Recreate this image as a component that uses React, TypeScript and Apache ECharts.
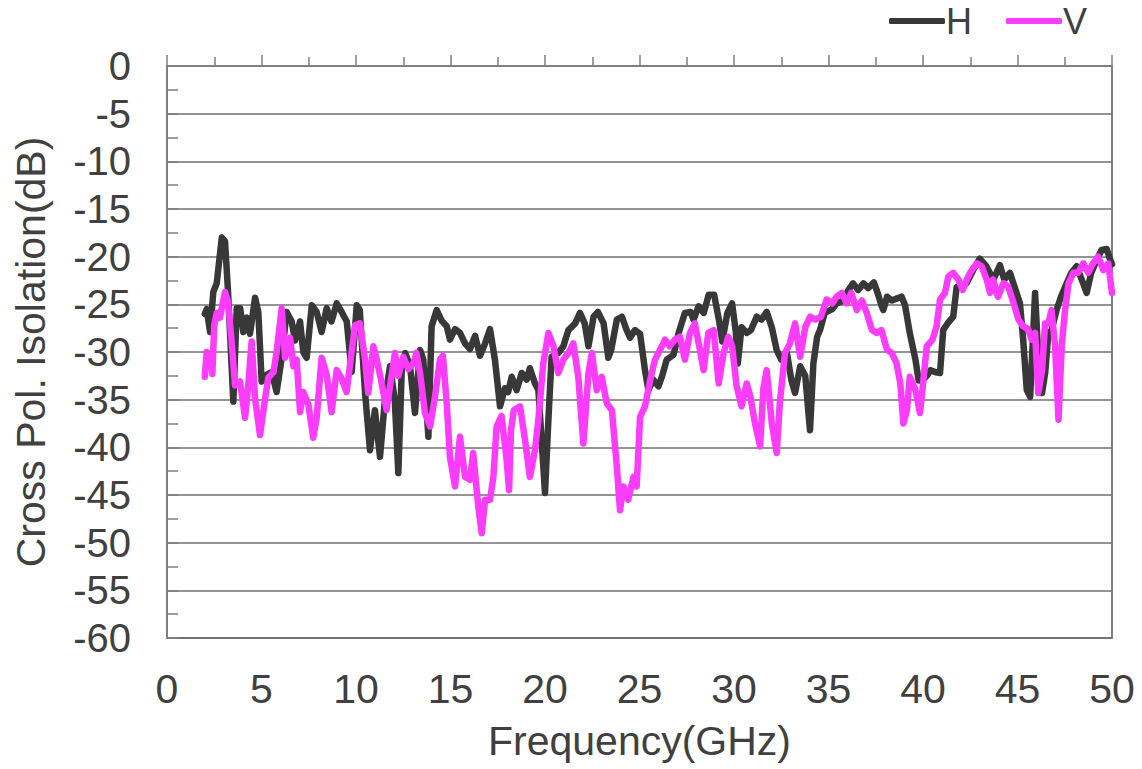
import React, { useEffect, useRef } from "react";
import * as echarts from "echarts";

// Frequency (GHz) and cross-pol isolation (dB) for H polarisation
const freqH = [
  2.0, 2.1, 2.28, 2.45, 2.63, 2.9, 3.07, 3.23, 3.51, 3.69, 3.87, 4.04, 4.22, 4.39, 4.66, 4.83,
  5.01, 5.27, 5.54, 5.8, 6.07, 6.33, 6.6, 6.77, 7.04, 7.21, 7.39, 7.66, 7.92, 8.18, 8.45, 8.7,
  8.98, 9.24, 9.51, 9.77, 10.04, 10.2, 10.48, 10.74, 11.0, 11.27, 11.53, 11.8, 12.05, 12.24,
  12.42, 12.6, 12.86, 13.12, 13.39, 13.56, 13.83, 14.0, 14.27, 14.53, 14.8, 14.97, 15.24, 15.5,
  15.77, 16.03, 16.3, 16.56, 16.83, 17.09, 17.35, 17.62, 17.88, 18.05, 18.24, 18.5, 18.77, 19.03,
  19.2, 19.47, 19.65, 19.82, 20.0, 20.18, 20.35, 20.7, 20.97, 21.24, 21.6, 21.85, 22.1, 22.3,
  22.57, 22.8, 23.1, 23.35, 23.5, 23.8, 24.07, 24.32, 24.5, 24.76, 25.03, 25.29, 25.47, 25.73,
  26.0, 26.2, 26.44, 26.8, 27.07, 27.4, 27.7, 27.86, 28.13, 28.4, 28.66, 28.95, 29.2, 29.38,
  29.65, 29.9, 30.1, 30.2, 30.4, 30.67, 30.9, 31.2, 31.45, 31.73, 32.0, 32.26, 32.5, 32.8,
  33.04, 33.23, 33.5, 33.77, 34.02, 34.2, 34.4, 34.55, 34.8, 35.2, 35.43, 35.8, 36.05, 36.3,
  36.57, 36.85, 37.1, 37.4, 37.55, 37.8, 37.9, 38.1, 38.35, 38.6, 38.87, 39.05, 39.3, 39.6,
  39.77, 39.95, 40.2, 40.4, 40.63, 40.9, 41.07, 41.3, 41.6, 41.78, 42.0, 42.3, 42.66, 43.0,
  43.35, 43.72, 44.07, 44.3, 44.6, 44.9, 45.13, 45.3, 45.49, 45.67, 45.93, 46.1, 46.3, 46.47,
  46.63, 46.8, 47.07, 47.3, 47.6, 47.85, 48.13, 48.4, 48.66, 48.9, 49.2, 49.45, 49.72, 49.9, 50.0,
];
const valH = [
  -26.0, -25.5, -27.9, -23.7, -22.8, -18.0, -18.4, -23.7, -35.2, -25.4, -25.4, -27.9, -26.4, -28.1, -24.3, -25.8,
  -33.1, -32.4, -32.1, -34.2, -30.6, -25.8, -26.8, -28.8, -26.8, -30.0, -30.6, -25.1, -25.8, -27.9, -25.4, -26.8,
  -24.9, -25.8, -26.8, -32.1, -25.1, -25.6, -34.3, -40.3, -36.1, -41.0, -35.0, -31.5, -35.0, -42.7,
  -31.9, -30.1, -31.5, -36.4, -29.8, -30.8, -38.9, -27.3, -25.6, -26.7, -27.3, -28.7, -27.6, -28.0,
  -29.1, -29.7, -28.3, -30.4, -29.1, -27.6, -30.8, -35.7, -33.8, -34.2, -32.6, -34.0, -32.2, -32.9,
  -31.7, -33.3, -34.0, -39.2, -44.8, -37.1, -30.5, -30.1, -29.4, -27.7, -27.0, -25.9, -27.0, -29.4,
  -26.3, -25.8, -27.0, -30.6, -29.8, -26.6, -26.3, -27.7, -28.5, -27.7, -28.1, -31.9, -34.0, -32.9,
  -33.6, -32.5, -30.8, -30.3, -28.0, -25.9, -25.8, -26.6, -25.2, -25.9, -24.0, -24.0, -26.6, -28.9,
  -25.9, -24.9, -28.0, -31.2, -27.4, -28.0, -27.7, -26.3, -26.6, -25.8, -27.4, -29.8, -30.8, -30.1,
  -33.0, -34.3, -31.5, -32.5, -38.2, -31.2, -28.4, -27.7, -25.9, -25.5, -24.9, -24.6, -23.5, -22.8,
  -23.5, -22.8, -23.3, -22.7, -23.5, -25.1, -25.6, -24.2, -24.6, -24.4, -24.2, -25.1, -28.0, -30.8,
  -33.0, -33.0, -32.5, -31.9, -32.1, -32.2, -27.7, -27.0, -26.3, -23.2, -23.0, -22.8, -21.4, -20.2,
  -21.0, -22.4, -20.9, -22.4, -21.7, -23.5, -24.9, -28.7, -34.0, -34.7, -23.8, -30.5, -34.3, -32.1,
  -28.0, -27.7, -25.6, -24.2, -22.8, -21.7, -21.0, -22.4, -23.8, -21.7, -20.3, -19.3, -19.2, -20.3, -20.8,
];

// Frequency (GHz) and cross-pol isolation (dB) for V polarisation
const freqV = [
  2.0, 2.1, 2.3, 2.4, 2.5, 2.63, 2.8, 3.07, 3.23, 3.42, 3.6, 3.86, 4.13, 4.3, 4.48, 4.66, 4.92,
  5.19, 5.36, 5.63, 5.8, 6.07, 6.25, 6.51, 6.69, 6.86, 7.04, 7.21, 7.48, 7.74, 7.92, 8.18, 8.45,
  8.71, 8.98, 9.24, 9.5, 9.77, 9.95, 10.21, 10.48, 10.65, 10.92, 11.1, 11.36, 11.62, 11.8, 12.06,
  12.24, 12.5, 12.77, 13.03, 13.2, 13.39, 13.65, 13.92, 14.18, 14.44, 14.6, 14.8, 14.97, 15.24,
  15.5, 15.77, 16.03, 16.2, 16.47, 16.65, 16.83, 17.09, 17.27, 17.44, 17.7, 17.97, 18.1, 18.2,
  18.35, 18.68, 18.94, 19.2, 19.47, 19.65, 19.91, 20.18, 20.45, 20.7, 20.97, 21.24, 21.5, 21.76,
  22.03, 22.3, 22.48, 22.74, 23.0, 23.27, 23.54, 23.8, 23.97, 24.15, 24.4, 24.68, 24.85, 25.03,
  25.29, 25.56, 25.82, 26.08, 26.35, 26.6, 26.87, 27.14, 27.4, 27.67, 27.93, 28.2, 28.39, 28.64,
  28.92, 29.19, 29.45, 29.7, 29.9, 30.14, 30.4, 30.67, 30.86, 31.11, 31.38, 31.55, 31.73, 32.0,
  32.26, 32.43, 32.7, 32.96, 33.23, 33.5, 33.77, 34.03, 34.3, 34.6, 34.9, 35.2, 35.43, 35.7,
  35.96, 36.2, 36.5, 36.77, 37.02, 37.3, 37.55, 37.8, 38.1, 38.35, 38.6, 38.8, 38.96, 39.15,
  39.3, 39.6, 39.84, 40.02, 40.2, 40.5, 40.72, 40.9, 41.16, 41.34, 41.6, 41.87, 42.1, 42.3,
  42.49, 42.84, 43.1, 43.37, 43.55, 43.7, 43.97, 44.25, 44.5, 44.8, 45.05, 45.3, 45.56, 45.75,
  45.93, 46.1, 46.3, 46.46, 46.63, 46.8, 46.99, 47.17, 47.34, 47.5, 47.7, 47.95, 48.2, 48.48,
  48.74, 49.0, 49.27, 49.54, 49.8, 50.0,
];
const valV = [
  -32.6, -30.0, -30.3, -32.3, -27.2, -25.9, -26.4, -23.7, -24.8, -28.9, -33.5, -33.1, -36.9, -33.5, -28.9, -34.9, -38.7,
  -34.9, -32.7, -32.1, -30.0, -25.4, -30.6, -28.5, -31.5, -30.8, -36.3, -34.2, -35.5, -39.0, -36.9, -30.6, -32.4,
  -36.3, -31.9, -32.8, -34.2, -30.0, -27.2, -27.0, -30.8, -34.3, -29.4, -30.8, -33.3, -36.1, -33.6, -30.1,
  -32.5, -30.5, -31.8, -31.2, -30.1, -32.2, -36.4, -37.8, -34.7, -30.8, -30.4, -35.4, -41.0, -44.1,
  -38.9, -43.1, -43.4, -40.6, -46.2, -49.0, -45.5, -45.5, -43.1, -37.8, -36.7, -41.3, -44.5, -38.2,
  -36.1, -35.7, -39.2, -43.1, -40.3, -37.1, -31.2, -28.0, -29.4, -32.2, -30.8, -30.1, -29.1, -32.6,
  -39.6, -32.2, -30.1, -34.0, -32.6, -35.4, -36.1, -42.0, -46.6, -44.1, -45.5, -43.1, -44.1, -36.8,
  -35.7, -33.0, -30.8, -29.8, -28.7, -29.4, -28.7, -28.4, -30.8, -28.0, -27.0, -29.8, -31.9, -28.0,
  -27.7, -33.3, -30.1, -28.4, -29.4, -33.6, -35.7, -33.3, -34.6, -37.5, -39.9, -33.9, -31.9, -37.5,
  -40.6, -35.2, -30.1, -29.1, -27.0, -30.5, -27.4, -26.3, -26.6, -26.3, -24.5, -24.9, -24.2, -23.8,
  -24.9, -23.8, -25.6, -24.6, -25.9, -27.7, -28.0, -27.7, -29.8, -30.1, -31.2, -33.3, -37.5, -36.1,
  -32.6, -34.0, -36.4, -33.0, -29.4, -28.7, -27.3, -24.5, -23.8, -22.1, -21.7, -22.4, -23.5, -22.5,
  -21.7, -20.7, -21.0, -22.4, -23.8, -22.4, -24.2, -22.8, -23.1, -24.9, -26.6, -27.3, -27.6, -28.7,
  -28.0, -34.3, -31.9, -27.0, -27.0, -25.6, -29.4, -37.1, -29.4, -25.9, -22.8, -21.7, -21.7, -20.7,
  -21.7, -20.7, -20.0, -21.4, -20.7, -23.8,
];

const seriesNames = ["H", "V"];
const xTitle = "Frequency(GHz)";
const yTitle = "Cross Pol. Isolation(dB)";

export default function App() {
  const ref = useRef<HTMLDivElement>(null);
  useEffect(() => {
    if (!ref.current) return;
    const chart = echarts.init(ref.current, undefined, { renderer: "svg" });
    const font = "'Liberation Sans', Arial, sans-serif";
    const textColor = "#404040";
    const axisColor = "#7f7f7f";
    const colH = "#383838";
    const colV = "#fb3cfb";
    chart.setOption({
      animation: false,
      backgroundColor: "#ffffff",
      textStyle: { fontFamily: font },
      grid: {
        left: 167,
        right: 30,
        top: 66,
        bottom: 131,
        show: true,
        borderColor: axisColor,
        borderWidth: 2,
        backgroundColor: "transparent",
      },
      legend: {
        right: 55,
        top: 3,
        padding: 0,
        icon: "roundRect",
        itemWidth: 56,
        itemHeight: 6,
        itemGap: 34,
        textStyle: { fontSize: 36, color: textColor, fontFamily: font, padding: [0, 0, 0, -4] },
        data: seriesNames,
      },
      xAxis: {
        type: "value",
        min: 0,
        max: 50,
        interval: 5,
        name: xTitle,
        nameLocation: "middle",
        nameGap: 82,
        nameTextStyle: { fontSize: 41, color: textColor, fontFamily: font },
        axisLine: { show: true, lineStyle: { color: axisColor, width: 2 } },
        axisTick: { show: true, inside: true, length: 11, lineStyle: { color: axisColor, width: 1.5 } },
        minorTick: { show: true, splitNumber: 2, length: 9, lineStyle: { color: axisColor, width: 1.5 } },
        axisLabel: { fontSize: 41, color: textColor, margin: 30, fontFamily: font },
        splitLine: { show: false },
      },
      yAxis: {
        type: "value",
        min: -60,
        max: 0,
        interval: 5,
        name: yTitle,
        nameLocation: "middle",
        nameRotate: 90,
        nameGap: 116,
        nameTextStyle: { fontSize: 41, color: textColor, fontFamily: font },
        axisLine: { show: true, lineStyle: { color: axisColor, width: 2 } },
        axisTick: { show: true, inside: true, length: 11, lineStyle: { color: axisColor, width: 1.5 } },
        minorTick: { show: true, splitNumber: 2, length: 11, lineStyle: { color: axisColor, width: 1.5 } },
        axisLabel: { fontSize: 40, color: textColor, margin: 36, fontFamily: font },
        splitLine: { show: true, lineStyle: { color: "#707070", width: 1.5 } },
      },
      series: [
        {
          name: seriesNames[0],
          type: "line",
          symbol: "none",
          showSymbol: false,
          itemStyle: { color: colH },
          lineStyle: { width: 6.5, color: colH, cap: "round", join: "round" },
          data: freqH.map((f, i) => [f, valH[i]]),
          z: 2,
        },
        {
          name: seriesNames[1],
          type: "line",
          symbol: "none",
          showSymbol: false,
          itemStyle: { color: colV },
          lineStyle: { width: 6.5, color: colV, cap: "round", join: "round" },
          data: freqV.map((f, i) => [f, valV[i]]),
          z: 3,
        },
      ],
    });
    return () => chart.dispose();
  }, []);
  return (
    <div
      ref={ref}
      style={{ position: "fixed", left: 0, top: 0, width: 1142, height: 769, background: "#fff" }}
    />
  );
}
